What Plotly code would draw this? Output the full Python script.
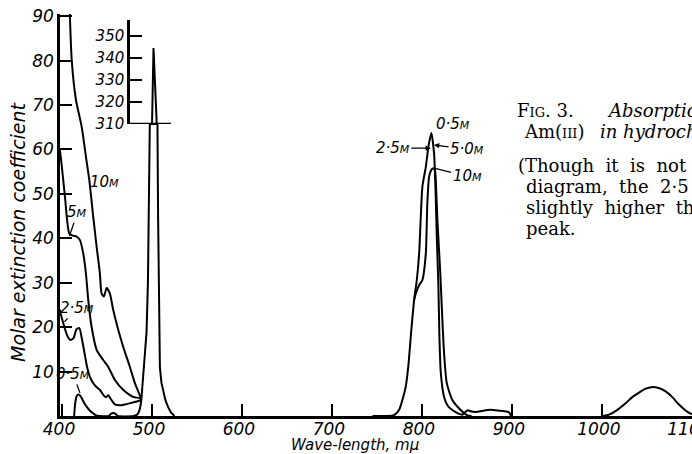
import numpy as np
import plotly.graph_objects as go

# ---------------- data ----------------
WL_10M = [408.5, 410.8, 415.5, 421.8, 426.6, 430.3, 434.7, 438.5, 442.1, 444.0, 446.6,
          449.6, 453.2, 456.9, 462.5, 468.0, 475.4, 481.0, 486.5, 488.2]
EXT_10M = [92.0, 80.2, 71.2, 65.2, 58.4, 53.2, 44.9, 38.1, 32.1, 27.6, 26.9,
           28.8, 27.6, 23.9, 19.4, 15.6, 11.1, 7.4, 4.7, 3.6]

WL_5M = [397.5, 399.0, 403.3, 408.1, 412.0, 416.3, 420.0, 423.6, 426.6, 429.2, 432.9,
         438.5, 445.8, 451.3, 458.8, 468.0, 479.0, 486.5, 488.2]
EXT_5M = [60.0, 57.7, 49.4, 41.1, 40.6, 40.4, 39.6, 36.6, 32.1, 26.1, 20.1,
          14.9, 12.6, 11.1, 8.1, 5.9, 4.3, 4.0, 3.6]

WL_2_5M = [397.5, 398.5, 402.0, 406.0, 409.5, 413.0, 416.0, 419.3, 422.0, 425.0, 428.0,
           431.0, 434.7, 438.0, 442.0, 446.5, 449.0, 451.3, 454.0, 458.8, 464.0, 470.0,
           476.0, 482.0, 486.5, 488.2]
EXT_2_5M = [24.0, 23.1, 20.5, 18.0, 17.1, 17.6, 19.5, 19.8, 17.5, 14.2, 10.9,
            8.8, 7.4, 6.6, 5.9, 4.6, 4.2, 4.7, 3.9, 2.6, 2.4, 2.6,
            2.9, 3.2, 3.5, 3.6]

WL_0_5M = [413.5, 414.5, 416.0, 417.5, 419.6, 422.0, 424.5, 427.4, 431.0, 434.7, 438.0,
           452.0, 454.5, 457.0, 459.5, 462.0, 480.0, 484.0, 486.5, 488.2]
EXT_0_5M = [0.0, 2.5, 4.3, 4.8, 4.7, 4.0, 3.0, 2.1, 1.2, 0.6, 0.1,
            0.0, 0.5, 0.7, 0.5, 0.0, 0.0, 0.4, 1.6, 3.6]

# the 503 m-mu band (common to all concentrations); values above the break
# are shown on the inset 310-350 scale
WL_503 = [488.2, 490.0, 492.0, 494.0, 495.5, 496.7, 497.6, 499.6, 500.0, 501.7, 505.0,
          505.4, 506.1, 506.8, 507.6, 508.8, 510.5, 512.5, 515.0, 518.0, 521.0, 525.0]
EXT_503 = [3.6, 8.0, 13.0, 19.0, 30.0, 45.0, 66.0, 300.0, 313.0, 344.5, 313.0,
           300.0, 66.0, 45.0, 22.0, 11.0, 7.5, 5.5, 3.5, 2.0, 0.8, 0.0]

# 812 m-mu band: 0.5 M, 2.5 M and 5.0 M curves (coincident) and 10 M curve
WL_NIR_LOW = [745, 760, 769.0, 774.7, 778.0, 782.0, 785.0, 787.6, 791.3, 794.3, 796.9,
              800.5, 804.3, 807.5, 810.5, 813.5, 815.0, 816.5, 818.3, 819.4, 821.0,
              824.6, 829.0, 833.8, 840.0, 845.0, 848.0, 851.0, 855.0, 860.0, 868.0,
              876.0, 886.0, 894.0, 897.0, 899.0]
EXT_NIR_LOW = [0.0, 0.0, 0.2, 1.4, 3.4, 6.6, 11.5, 17.9, 26.1, 30.6, 36.6,
               51.6, 56.1, 61.0, 63.7, 59.0, 51.6, 40.4, 29.1, 17.9, 9.6,
               4.3, 2.2, 1.35, 0.6, 0.3, 0.9, 1.3, 1.0, 0.9, 1.2,
               1.4, 1.2, 1.0, 0.8, 0.0]

WL_NIR_10M = [791.3, 793.2, 797.0, 800.5, 804.3, 806.0, 808.0, 810.8, 812.8, 814.5,
              815.6, 817.2, 820.2, 822.7, 824.6, 827.6, 833.8, 843.0, 850.0, 855.0]
EXT_NIR_10M = [26.1, 27.6, 29.5, 30.6, 36.6, 47.9, 53.9, 55.5, 55.8, 55.3,
               52.0, 44.0, 32.9, 21.6, 14.1, 7.4, 3.6, 1.35, 0.2, 0.0]

# ~1055 m-mu band
WL_IR = [1000, 1008, 1016, 1026, 1034, 1040.8, 1048, 1055.5, 1063, 1070.4, 1078,
         1085, 1091, 1096, 1100]
EXT_IR = [0.0, 0.3, 1.2, 2.8, 4.3, 5.2, 6.1, 6.5, 6.3, 5.6, 4.3, 2.7, 1.6, 0.8, 0.4]

X_TICKS = [400, 500, 600, 700, 800, 900, 1000, 1100]
Y_TICKS = [10, 20, 30, 40, 50, 60, 70, 80, 90]
INSET_TICKS = [310, 320, 330, 340, 350]

# ---------------- layout constants ----------------
W, H = 692, 454
ML, MR, MT, MB = 60, 0, 14, 38
PLOT_W, PLOT_H = W - ML - MR, H - MT - MB
X_RANGE = [397.8, 1100.1]
Y_MAX = 90.5
INSET_DOMAIN = [0.7264, 0.985]
INSET_PX_PER_UNIT = 2.2
INSET_RANGE = [310, 310 + (INSET_DOMAIN[1] - INSET_DOMAIN[0]) * PLOT_H / INSET_PX_PER_UNIT]
BREAK_MAIN = INSET_DOMAIN[0] * Y_MAX   # main-scale height of the 310 break line
INSET_POS = 0.1076                     # paper x of the inset axis
INSET_LINE_END = 0.1756

HAND = "DejaVu Sans"
SERIF = "DejaVu Serif"
LINE = dict(color="black", width=2)

fig = go.Figure()

for wl, ext in [(WL_10M, EXT_10M), (WL_5M, EXT_5M), (WL_2_5M, EXT_2_5M),
                (WL_0_5M, EXT_0_5M), (WL_NIR_LOW, EXT_NIR_LOW),
                (WL_NIR_10M, EXT_NIR_10M), (WL_IR, EXT_IR)]:
    fig.add_trace(go.Scatter(x=wl, y=ext, mode="lines",
                             line=dict(color="black", width=2, shape="spline", smoothing=0.6),
                             hoverinfo="skip"))

# 503 band: lower part on main scale (cut at the break), top on inset scale
fig.add_trace(go.Scatter(x=WL_503, y=np.minimum(EXT_503, BREAK_MAIN), mode="lines",
                         line=LINE, hoverinfo="skip"))
fig.add_trace(go.Scatter(x=WL_503, y=EXT_503, mode="lines", line=LINE,
                         yaxis="y2", hoverinfo="skip"))

tickfont = dict(family=HAND, size=17, color="black", style="italic")
fig.update_layout(
    width=W, height=H, margin=dict(l=ML, r=MR, t=MT, b=MB, autoexpand=False),
    paper_bgcolor="white", plot_bgcolor="rgba(0,0,0,0)", showlegend=False,
    xaxis=dict(range=X_RANGE, tickvals=X_TICKS, ticks="inside", ticklen=12, tickwidth=2,
               tickcolor="black", showline=True, linewidth=2.5, linecolor="black",
               showgrid=False, zeroline=False, tickfont=tickfont, automargin=False,
               ticklabeloverflow="allow", ticklabelstandoff=-4, ticklabelshift=-3),
    yaxis=dict(range=[0, Y_MAX], tickvals=Y_TICKS, ticks="inside", ticklen=12, tickwidth=2,
               tickcolor="black", showline=True, linewidth=2.5, linecolor="black",
               showgrid=False, zeroline=False, tickfont=tickfont, automargin=False),
    yaxis2=dict(range=INSET_RANGE, domain=INSET_DOMAIN, anchor="free", position=INSET_POS,
                tickvals=INSET_TICKS, ticks="inside", ticklen=12, tickwidth=2,
                tickcolor="black", showline=True, linewidth=2.5, linecolor="black",
                showgrid=False, zeroline=False, automargin=False,
                tickfont=dict(family=HAND, size=15, color="black", style="italic")),
)

# 310 break line
fig.add_shape(type="line", xref="paper", yref="y2", x0=INSET_POS, x1=INSET_LINE_END,
              y0=310, y1=310, line=dict(color="black", width=2.5))

sm = lambda s: f"<span style='font-size:11px'>{s}</span>"
lab = dict(family=HAND, size=15, color="black", style="italic")

# curve labels, left group
fig.add_annotation(x=429, y=52.7, text="10" + sm("M"), showarrow=False,
                   xanchor="left", font=lab)
fig.add_annotation(x=408.3, y=40.5, text="5" + sm("M"), ax=8, ay=-24, showarrow=True,
                   arrowhead=0, arrowwidth=1.3, arrowcolor="black", font=lab)
fig.add_annotation(x=402.8, y=21.2, text="2·5" + sm("M"), ax=12, ay=-14, showarrow=True,
                   arrowhead=0, arrowwidth=1.3, arrowcolor="black", font=lab)
fig.add_annotation(x=420, y=5.2, text="0·5" + sm("M"), ax=-7, ay=-19, showarrow=True,
                   arrowhead=0, arrowwidth=1.3, arrowcolor="black", font=lab)

# curve labels, 812 band
fig.add_annotation(x=813.5, y=65.7, text="0·5" + sm("M"), showarrow=False,
                   xanchor="left", font=lab)
fig.add_annotation(x=809.9, y=60.3, text="2·5" + sm("M"), ax=-38, ay=0, showarrow=True,
                   arrowhead=2, arrowsize=0.8, arrowwidth=1.3, arrowcolor="black", font=lab)
fig.add_annotation(x=813.5, y=61.0, text="5·0" + sm("M"), ax=33, ay=4, showarrow=True,
                   arrowhead=2, arrowsize=0.8, arrowwidth=1.3, arrowcolor="black", font=lab)
fig.add_annotation(x=813.5, y=55.8, text="10" + sm("M"), ax=33, ay=8, showarrow=True,
                   arrowhead=0, arrowwidth=1.3, arrowcolor="black", font=lab)

# axis titles
fig.add_annotation(xref="paper", yref="paper", x=(18 - ML) / PLOT_W, y=(416 - 232) / PLOT_H,
                   xanchor="center", yanchor="middle",
                   text="Molar extinction coefficient", textangle=-90, showarrow=False,
                   font=dict(family=HAND, size=19, color="black", style="italic"))
fig.add_annotation(xref="paper", yref="paper", x=(355 - ML) / PLOT_W, y=(416 - 445) / PLOT_H,
                   xanchor="center", yanchor="middle",
                   text="Wave-length, mμ", showarrow=False,
                   font=dict(family=HAND, size=15, color="black", style="italic"))

# caption
cap = dict(family=SERIF, size=18, color="black")
capi = dict(family=SERIF, size=18, color="black", style="italic")
def px(xp, yp):
    return (xp - ML) / PLOT_W, (416 - yp) / PLOT_H
for text, xp, yp, f in [
    ("F<span style='font-size:13px'>IG</span>. 3.", 515, 110, cap),
    ("Absorption", 605, 110, capi),
    ("Am(<span style='font-size:13px'>III</span>)", 522, 131, cap),
    ("in hydrochloric", 598, 131, capi),
    ("(Though  it  is  not", 516, 165, cap),
    ("diagram,  the  2·5", 524, 186, cap),
    ("slightly  higher  than", 524, 207, cap),
    ("peak.", 524, 228, cap),
]:
    xx, yy = px(xp, yp)
    fig.add_annotation(xref="paper", yref="paper", x=xx, y=yy, text=text, showarrow=False,
                       xanchor="left", yanchor="middle", font=f)

fig.write_html("out.html")
